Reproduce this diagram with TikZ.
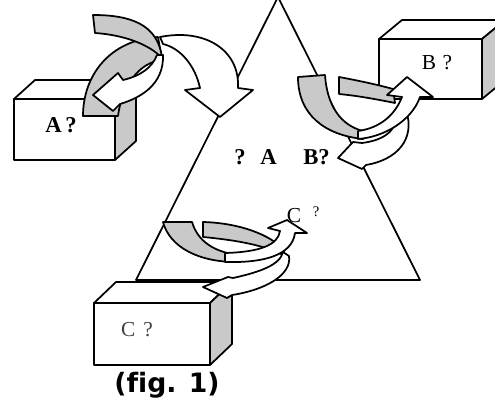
\documentclass[tikz,border=0pt]{standalone}
\usepackage{fontspec}
\setmainfont{Liberation Serif}
\newfontfamily\capfont[Ligatures=NoCommon]{DejaVu Sans}
\usetikzlibrary{positioning}

\begin{document}
\begin{tikzpicture}[x=0.75pt, y=-0.75pt,
    every node/.style={font=\fontsize{16}{16}\selectfont, inner sep=0pt},
    edge/.style={line width=1.3pt, line join=round},
    face/.style={edge, fill=white},
    side/.style={edge, fill=gray!42},
    back/.style={edge, fill=gray!42},
    front/.style={edge, fill=white},
    bold/.style={font=\fontsize{17}{17}\selectfont\bfseries},
  ]
  \useasboundingbox (0,0) rectangle (495,414);

  % Triangle
  \draw[edge] (278,-3) -- (136,280) -- (420,280) -- cycle;

  % Box A
  \draw[face] (14,99) rectangle (115,160);
  \draw[face] (14,99) -- (35,80) -- (136,80) -- (115,99) -- cycle;
  \draw[side] (115,99) -- (136,80) -- (136,141) -- (115,160) -- cycle;

  % Box B
  \draw[face] (379,39) rectangle (482,99);
  \draw[face] (379,39) -- (402,20) -- (505,20) -- (482,39) -- cycle;
  \draw[side] (482,39) -- (505,20) -- (505,80) -- (482,99) -- cycle;

  % Box C
  \draw[face] (94,303) rectangle (210,365);
  \draw[face] (94,303) -- (116,282) -- (232,282) -- (210,303) -- cycle;
  \draw[side] (210,303) -- (232,282) -- (232,344) -- (210,365) -- cycle;

  % Ribbons at A
  \draw[back] (83,116) .. controls (83,75) and (110,40) .. (158,37) -- (162,60)
    .. controls (140,62) and (122,85) .. (118,116) -- cycle;
  \draw[back] (93,15) .. controls (130,15) and (158,24) .. (162,58)
    .. controls (150,45) and (125,35) .. (95,33) -- cycle;
  \draw[front] (160,37) .. controls (205,28) and (240,50) .. (238,88) -- (253,90)
    -- (220,117) -- (185,90) -- (200,88) .. controls (195,65) and (180,48) .. (163,44) -- cycle;
  \draw[front] (163,55) .. controls (164,85) and (140,98) .. (120,104) -- (113,111)
    -- (93,95) -- (118,73) -- (123,80) .. controls (140,76) and (152,68) .. (157,55) -- cycle;

  % Ribbons at B
  \draw[back] (298,77) -- (325,75) .. controls (327,105) and (340,125) .. (363,131)
    -- (363,139) .. controls (325,135) and (298,115) .. (298,77) -- cycle;
  \draw[back] (339,77) -- (339,94) .. controls (360,96) and (380,100) .. (395,103)
    -- (393,89) .. controls (375,84) and (355,80) .. (339,77) -- cycle;
  \draw[front] (406,110) .. controls (416,140) and (396,160) .. (366,165) -- (362,169)
    -- (338,158) -- (353,142) -- (362,143) .. controls (385,140) and (398,130) .. (396,112) -- cycle;
  \draw[front] (358,139) .. controls (385,137) and (412,120) .. (420,97) -- (433,97)
    -- (407,77) -- (387,95) -- (402,97) .. controls (395,115) and (380,128) .. (358,131) -- cycle;

  % Ribbons at C
  \draw[back] (163,222) -- (192,222) .. controls (198,242) and (215,252) .. (238,255)
    -- (236,262) .. controls (200,262) and (170,248) .. (163,222) -- cycle;
  \draw[back] (203,222) -- (203,237) .. controls (235,240) and (265,245) .. (285,256)
    -- (283,249) .. controls (270,235) and (240,223) .. (203,222) -- cycle;
  \draw[front] (225,262) .. controls (265,263) and (292,255) .. (295,233) -- (307,233)
    -- (287,220) -- (268,228) -- (280,231) .. controls (278,245) and (260,252) .. (225,253) -- cycle;
  \draw[front] (283,252) -- (289,256) .. controls (292,275) and (265,290) .. (232,295)
    -- (227,298) -- (203,287) -- (228,277) -- (233,278) .. controls (260,272) and (280,265) .. (283,252) -- cycle;

  % Labels
  \node[bold] (labelA) at (61,125) {A\,?};
  \node (labelB) at (437,63) {B\hspace{5pt}?};
  \node[text=black!75] (labelC) at (137,330) {C\hspace{6pt}?};
  \node[bold] (labelAB) at (282,157) {?\hspace{11pt}A\hspace{20pt}B?};
  \node (arrowC) at (294,216) {C};
  \node[font=\fontsize{11}{11}\selectfont] (arrowCq) at (316,212) {?};
  \node[font=\capfont\bfseries\fontsize{20}{20}\selectfont] (caption) at (167,385) {(f\kern0pt ig. 1)};
\end{tikzpicture}
\end{document}
